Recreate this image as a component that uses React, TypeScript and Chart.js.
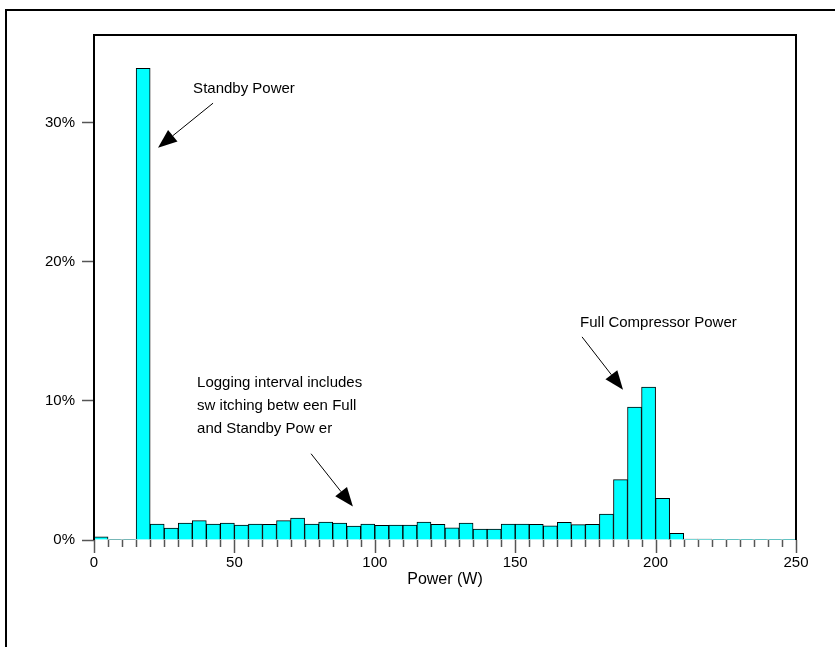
import React, { useEffect, useRef } from "react";
import { Chart, registerables } from "chart.js";
Chart.register(...registerables);

// Histogram bins (W, lower edge of each 5 W bin)
const binStart = [
  0, 5, 10, 15, 20, 25, 30, 35, 40, 45,
  50, 55, 60, 65, 70, 75, 80, 85, 90, 95,
  100, 105, 110, 115, 120, 125, 130, 135, 140, 145,
  150, 155, 160, 165, 170, 175, 180, 185, 190, 195,
  200, 205, 210, 215, 220, 225, 230, 235, 240, 245,
];
const binWidth = 5;
// Share of logged intervals (%)
const sharePct = [
  0.22, 0.04, 0.04, 33.9, 1.15, 0.86, 1.22, 1.39, 1.15, 1.22,
  1.08, 1.15, 1.12, 1.39, 1.58, 1.15, 1.29, 1.22, 1.0, 1.15,
  1.05, 1.08, 1.08, 1.29, 1.12, 0.88, 1.22, 0.79, 0.79, 1.15,
  1.15, 1.12, 1.02, 1.27, 1.1, 1.12, 1.87, 4.34, 9.55, 11.0,
  3.0, 0.48, 0.07, 0.07, 0.02, 0.02, 0.02, 0.02, 0.02, 0.02,
];
const yTicks = [0, 10, 20, 30];
const xMajorTicks = [0, 50, 100, 150, 200, 250];
const xTitle = "Power (W)";

// Annotations (positions in data units: W, %)
const noteTexts = [
  { lines: ["Standby Power"], x: 35.3, y: 32.4 },
  { lines: ["Full Compressor Power"], x: 173.1, y: 15.6 },
  {
    lines: ["Logging interval includes", "sw itching betw een Full", "and Standby Pow er"],
    x: 36.7,
    y: 11.3,
  },
];
const noteArrows = [
  { from: [42.4, 31.4], to: [22.8, 28.2] },
  { from: [173.8, 14.6], to: [188.4, 10.8] },
  { from: [77.3, 6.2], to: [92.2, 2.4] },
];

const FONT = "'Liberation Sans', Arial, sans-serif";

const decor = {
  id: "decor",
  beforeDraw(chart: any) {
    const { ctx, width, height } = chart;
    ctx.save();
    ctx.fillStyle = "#fff";
    ctx.fillRect(0, 0, width, height);
    ctx.restore();
  },
  afterDraw(chart: any) {
    const { ctx, chartArea: a, scales } = chart;
    const x = scales.x;
    const y = scales.y;
    ctx.save();
    // outer frame
    ctx.strokeStyle = "#000";
    ctx.lineWidth = 2;
    ctx.beginPath();
    ctx.moveTo(6, chart.height);
    ctx.lineTo(6, 10);
    ctx.lineTo(chart.width, 10);
    ctx.stroke();
    // plot frame
    ctx.beginPath();
    ctx.moveTo(a.left, a.bottom);
    ctx.lineTo(a.left, a.top);
    ctx.lineTo(a.right, a.top);
    ctx.lineTo(a.right, a.bottom);
    ctx.stroke();
    // x ticks (minor at bin edges, major at labels)
    ctx.strokeStyle = "#555";
    ctx.lineWidth = 1.5;
    const edges = [...binStart, binStart[binStart.length - 1] + binWidth];
    edges.forEach((v) => {
      const px = Math.round(x.getPixelForValue(v)) + 0.5;
      const len = xMajorTicks.includes(v) ? 13 : 7;
      ctx.beginPath();
      ctx.moveTo(px, a.bottom);
      ctx.lineTo(px, a.bottom + len);
      ctx.stroke();
    });
    // annotations
    ctx.fillStyle = "#000";
    ctx.font = `15px ${FONT}`;
    ctx.textAlign = "left";
    ctx.textBaseline = "middle";
    noteTexts.forEach((n) => {
      const px = x.getPixelForValue(n.x);
      const py = y.getPixelForValue(n.y);
      n.lines.forEach((ln, i) => ctx.fillText(ln, px, py + i * 23));
    });
    ctx.strokeStyle = "#000";
    ctx.lineWidth = 1;
    noteArrows.forEach((ar) => {
      const x1 = x.getPixelForValue(ar.from[0]);
      const y1 = y.getPixelForValue(ar.from[1]);
      const x2 = x.getPixelForValue(ar.to[0]);
      const y2 = y.getPixelForValue(ar.to[1]);
      const ang = Math.atan2(y2 - y1, x2 - x1);
      const hl = 19;
      const hw = 7.5;
      const bx = x2 - hl * Math.cos(ang);
      const by = y2 - hl * Math.sin(ang);
      ctx.beginPath();
      ctx.moveTo(x1, y1);
      ctx.lineTo(bx, by);
      ctx.stroke();
      ctx.beginPath();
      ctx.moveTo(x2, y2);
      ctx.lineTo(bx + hw * Math.sin(ang), by - hw * Math.cos(ang));
      ctx.lineTo(bx - hw * Math.sin(ang), by + hw * Math.cos(ang));
      ctx.closePath();
      ctx.fill();
    });
    ctx.restore();
  },
};

export default function App() {
  const ref = useRef<HTMLCanvasElement | null>(null);
  useEffect(() => {
    document.body.style.margin = "0";
    const canvas = ref.current;
    if (!canvas) return;
    const chart = new Chart(canvas, {
      type: "bar",
      data: {
        datasets: [
          {
            data: binStart.map((s, i) => ({ x: s + binWidth / 2, y: sharePct[i] })),
            backgroundColor: "#00ffff",
            borderColor: "#000",
            borderWidth: 1,
            barPercentage: 1,
            categoryPercentage: 1,
          },
        ],
      },
      options: {
        responsive: false,
        animation: false,
        devicePixelRatio: 1,
        layout: { padding: { left: 0, top: 35, right: 39, bottom: 58 } },
        plugins: {
          legend: { display: false },
          tooltip: { enabled: false },
        },
        scales: {
          x: {
            type: "linear",
            min: 0,
            max: 250,
            offset: false,
            afterFit: (s: any) => {
              s.height = 49;
            },
            afterBuildTicks: (s: any) => {
              s.ticks = xMajorTicks.map((v) => ({ value: v }));
            },
            grid: { display: false, drawTicks: false },
            border: { display: false },
            ticks: {
              color: "#000",
              font: { family: FONT, size: 15 },
              padding: 14,
              maxRotation: 0,
              callback: (v: any) => String(v),
            },
            title: {
              display: true,
              text: xTitle,
              color: "#000",
              font: { family: FONT, size: 16 },
              padding: { top: 0, bottom: 0 },
            },
          },
          y: {
            min: 0,
            max: 36.3,
            afterFit: (s: any) => {
              s.width = 94;
            },
            afterBuildTicks: (s: any) => {
              s.ticks = yTicks.map((v) => ({ value: v }));
            },
            grid: {
              display: true,
              drawOnChartArea: false,
              drawTicks: true,
              tickLength: 12,
              tickColor: "#555",
              tickWidth: 1.5,
            },
            border: { display: false },
            ticks: {
              color: "#000",
              font: { family: FONT, size: 15 },
              padding: 7,
              callback: (v: any) => `${v}%`,
            },
          },
        },
      },
      plugins: [decor],
    });
    return () => chart.destroy();
  }, []);
  return <canvas ref={ref} width={835} height={647} style={{ display: "block" }} />;
}
